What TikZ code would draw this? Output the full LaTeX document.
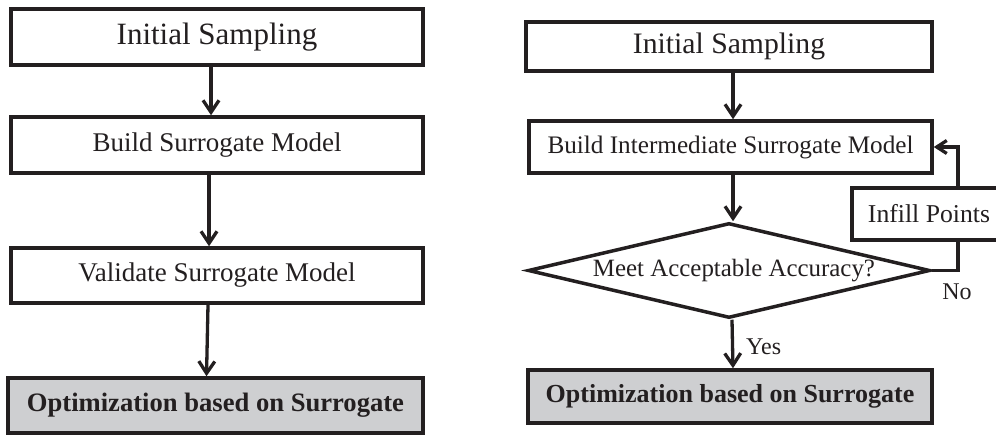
\documentclass[tikz,border=0pt]{standalone}
\usepackage{fontspec}
\setmainfont{Liberation Serif}
\usetikzlibrary{arrows.meta,shapes.geometric}
\definecolor{ink}{RGB}{35,31,32}
\definecolor{boxgray}{RGB}{206,207,209}
\tikzset{
  stepbox/.style={draw=ink, line width=3.5pt, rectangle, inner sep=0pt, fill=white, text=ink},
  finalbox/.style={stepbox, fill=boxgray},
  decision/.style={draw=ink, line width=3.5pt, diamond, aspect=4.23, inner sep=0pt, fill=white, text=ink, minimum width=402pt, minimum height=95pt},
  flow/.style={draw=ink, line width=3.3pt, -{Straight Barb[length=12pt,width=16pt,line width=3.3pt]}},
  backflow/.style={draw=ink, line width=3.3pt, -{Straight Barb[length=10pt,width=13pt,line width=3.3pt]}},
  plainline/.style={draw=ink, line width=3.3pt},
  lbl/.style={text=ink, inner sep=0pt}
}
\newcommand{\fsz}[1]{\fontsize{#1}{#1}\selectfont}
\begin{document}
\begin{tikzpicture}[x=1pt,y=1pt]
\useasboundingbox (0,0) rectangle (996,434);
% left flow
\node[stepbox, minimum width=412pt, minimum height=56pt, font=\fsz{31}] (L1) at (217,397) {Initial Sampling};
\node[stepbox, minimum width=412pt, minimum height=56pt, font=\fsz{27}] (L2) at (217,289) {Build Surrogate Model};
\node[stepbox, minimum width=412pt, minimum height=55pt, font=\fsz{27}] (L3) at (217,158.5) {Validate Surrogate Model};
\node[finalbox, minimum width=415pt, minimum height=55pt, font=\bfseries\fsz{26.6}] (L4) at (215.5,28.5) {Optimization based on Surrogate};
\draw[flow] ([xshift=-6pt]L1.south) -- ([xshift=-6pt]L2.north);
\draw[flow] ([xshift=-8pt]L2.south) -- ([xshift=-8pt]L3.north);
\draw[flow] ([xshift=-9pt]L3.south) -- ([xshift=-9pt]L4.north);
% right flow
\node[stepbox, minimum width=406pt, minimum height=49pt, font=\fsz{29.7}] (R1) at (729,387.5) {Initial Sampling};
\node[stepbox, minimum width=403pt, minimum height=52pt, font=\fsz{25.2}] (R2) at (730.5,287) {Build Intermediate Surrogate Model};
\node[decision, font=\fsz{24.9}] (D) at (729,163.5) {\hspace*{10pt}Meet Acceptable Accuracy?};
\node[finalbox, minimum width=404pt, minimum height=53pt, font=\bfseries\fsz{26}] (R4) at (730,37.5) {Optimization based on Surrogate};
\node[stepbox, minimum width=154pt, minimum height=52pt, font=\fsz{25.7}] (I) at (929,220) {Infill Points};
\coordinate (k) at (958,0);
\draw[flow] ([xshift=4pt]R1.south) -- ([xshift=2.5pt]R2.north);
\draw[flow] ([xshift=2.5pt]R2.south) -- ([xshift=4pt]D.north);
\draw[flow] ([xshift=3pt]D.south) -- ([xshift=3pt]R4.north);
\draw[plainline] (D.east) -| (I.south -| k);
\draw[backflow] (I.north -| k) |- (R2.east);
\node[lbl, font=\fsz{24}, anchor=west] (yes) at (746,87) {Yes};
\node[lbl, font=\fsz{24}] (no) at (957,142) {No};
\end{tikzpicture}
\end{document}
